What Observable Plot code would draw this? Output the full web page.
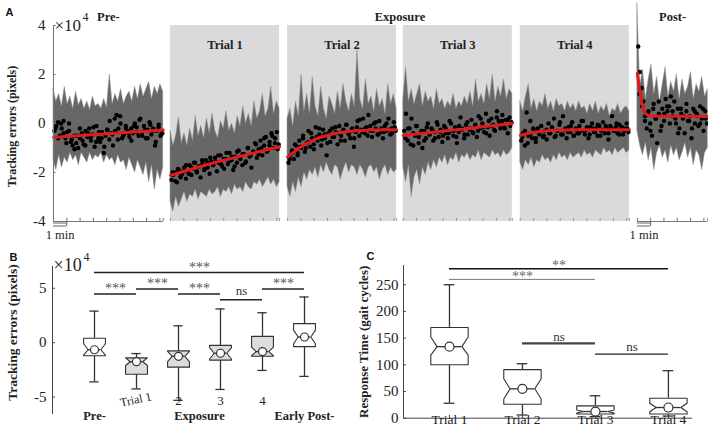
<!DOCTYPE html>
<html><head><meta charset="utf-8">
<script src="https://cdn.jsdelivr.net/npm/d3@7"></script>
<script src="https://cdn.jsdelivr.net/npm/@observablehq/plot@0.6"></script>
<style>
body{margin:0;background:#fff;}
#wrap{position:relative;width:708px;height:430px;overflow:hidden;background:#fff;}
#wrap svg{position:absolute;left:0;top:0;}
</style></head><body><div id="wrap"></div>
<script>
// ---------- Panel A data (tracking errors, x10^4 pixels; time in minutes) ----------
const segStart = [0, 8.8, 17.6, 26.3, 35.1, 43.9];
const segLength = [8.25, 8.2, 8.2, 8.2, 8.2, 5.3];
const segTitle = ["", "Trial 1", "Trial 2", "Trial 3", "Trial 4", ""];
const segShaded = [false, true, true, true, true, false];
const groupTitle = ["Pre-", "Exposure", "Post-"];
const groupFirst = [0, 1, 5];
const groupLast = [0, 4, 5];
const yTicksA = [-4, -2, 0, 2, 4];

const preUpper = [1.4,0.9,1.2,0.7,1.5,0.8,1.1,0.6,1.3,0.75,1.0,0.6,0.9,0.55,1.1,0.7,0.8,0.6,1.0,0.65,2.0,0.8,1.2,0.9,1.4,0.8,1.1,1.3,0.9,1.5,1.0,1.6,1.1,1.4,1.7,1.0,1.5,1.2,1.6,1.3];
const preLower = [-1.5,-1.9,-1.3,-1.8,-1.4,-1.6,-1.2,-1.5,-1.3,-1.7,-1.2,-1.4,-1.6,-1.2,-1.5,-1.3,-1.4,-1.2,-1.6,-1.3,-1.5,-1.4,-1.7,-1.3,-1.6,-1.5,-1.9,-1.4,-1.7,-2.0,-1.5,-1.8,-2.1,-1.6,-2.4,-1.7,-2.7,-1.9,-2.3,-1.8];
const t1Upper = [-0.3,-0.9,-0.5,0.26,-0.8,-0.4,-0.9,-0.2,-0.7,0.3,-0.5,-0.1,-0.6,0.2,-0.4,0.4,-0.3,-0.6,0.1,-0.2,0.5,-0.3,0.0,-0.4,0.3,-0.1,0.7,0.0,0.4,-0.1,0.9,0.2,0.5,1.2,0.3,0.6,1.5,0.4,0.9,0.6];
const t1Lower = [-3.2,-3.6,-3.0,-3.4,-3.1,-2.8,-3.2,-2.9,-3.0,-2.7,-3.1,-2.8,-2.9,-3.0,-2.7,-2.9,-2.8,-2.6,-3.0,-2.7,-2.8,-2.6,-2.9,-2.5,-2.7,-2.6,-2.8,-2.4,-2.6,-2.7,-2.4,-2.5,-2.3,-2.6,-2.4,-2.2,-2.5,-2.3,-2.6,-2.4];
const t2Upper = [0.2,0.6,-0.1,0.9,0.3,2.0,0.5,1.2,0.4,1.9,0.7,0.3,1.5,0.6,0.2,1.1,0.8,0.4,1.3,0.6,1.6,0.9,0.5,1.2,0.7,3.0,1.0,0.6,1.8,0.8,1.1,0.5,1.4,0.7,1.0,0.4,1.6,0.8,1.2,0.6];
const t2Lower = [-2.6,-3.0,-2.4,-2.8,-2.2,-2.6,-2.0,-2.3,-1.9,-2.1,-1.8,-2.2,-1.7,-2.0,-1.6,-1.9,-2.1,-1.7,-1.8,-2.3,-1.9,-1.6,-2.0,-1.7,-1.8,-2.1,-1.7,-1.9,-2.2,-1.8,-1.7,-2.0,-1.8,-2.3,-1.9,-1.7,-2.1,-1.8,-2.0,-1.9];
const t3Upper = [1.0,2.3,0.9,1.4,0.8,1.2,1.6,0.7,1.3,0.9,1.1,0.6,1.4,0.8,1.0,0.6,0.9,0.7,1.2,0.6,0.9,0.7,1.1,0.8,1.3,0.7,1.8,0.9,1.2,0.8,1.6,1.0,2.0,0.9,1.5,1.1,1.8,1.0,1.4,1.2];
const t3Lower = [-1.8,-2.4,-1.7,-3.0,-2.2,-1.9,-2.5,-1.8,-2.1,-1.6,-1.9,-1.5,-1.8,-1.4,-1.6,-1.3,-1.7,-1.4,-1.5,-1.2,-1.6,-1.3,-1.4,-1.2,-1.5,-1.3,-1.4,-1.1,-1.5,-1.2,-1.3,-1.4,-1.1,-1.3,-1.2,-1.4,-1.1,-1.3,-1.2,-1.0];
const t4Upper = [0.9,0.5,1.1,1.6,0.6,1.0,0.5,0.9,0.7,1.2,0.6,0.9,0.5,1.0,0.7,0.8,0.5,0.9,0.6,0.8,0.5,0.9,0.6,0.7,0.4,0.8,0.5,0.9,0.4,0.7,0.5,0.8,0.3,0.6,0.5,0.8,0.4,0.6,0.7,0.5];
const t4Lower = [-1.6,-1.9,-1.5,-1.7,-1.4,-1.8,-1.5,-1.6,-1.3,-1.5,-1.4,-1.6,-1.3,-1.5,-1.2,-1.4,-1.3,-1.5,-1.2,-1.4,-1.3,-1.2,-1.4,-1.1,-1.3,-1.2,-1.4,-1.1,-1.2,-1.3,-1.0,-1.2,-1.1,-1.3,-1.0,-1.2,-1.1,-1.0,-1.2,-1.1];
const postUpper = [4.9,1.5,2.2,1.0,1.8,2.4,1.2,1.9,0.9,1.6,2.3,1.1,1.7,1.3,2.0,1.0,1.8,1.2,1.5,2.1,1.0,1.6,1.3,1.9,1.1,1.4];
const postLower = [-0.3,-0.9,-1.3,-0.8,-1.5,-1.0,-1.9,-1.2,-0.9,-1.4,-1.1,-1.6,-0.9,-1.3,-1.0,-1.5,-1.2,-0.8,-1.4,-1.0,-1.7,-1.1,-1.3,-1.9,-1.2,-1.0];

// per-cycle mean errors (two interleaved sampling passes per block)
const preDots = [-0.3,-0.1,0.05,-0.5,-0.2,0.1,-0.6,-0.35,0.0,-0.75,-0.9,-0.5,-0.8,-1.0,-0.6,-0.4,-0.85,-0.3,-0.55,-0.2,-0.7,-0.45,-0.95,-0.1,-0.6,-0.75,-0.35,-1.2,-0.5,-0.25,-0.65,-0.4,-0.9,0.2,0.35,-0.2,0.3,-0.6,-0.45,-0.1,-0.3,-0.55,-0.2,-0.4,0.0,-0.15,-0.5,0.2,-0.35,-0.1,-0.6,-0.25,0.05,-0.45,-0.2,-0.9,-0.3,-0.05,-0.5,-0.4];
const t1Dots = [-2.3,-2.1,-2.0,-2.4,-1.9,-2.2,-2.05,-1.8,-2.25,-1.95,-1.7,-2.1,-1.85,-1.6,-2.0,-1.75,-2.2,-1.65,-1.9,-1.5,-1.8,-2.05,-1.55,-1.7,-1.4,-1.95,-1.6,-1.3,-1.75,-1.85,-1.45,-1.65,-1.2,-1.5,-1.9,-1.35,-1.6,-1.1,-1.45,-1.7,-1.25,-1.55,-1.0,-1.35,-1.8,-1.15,-0.8,-1.4,-1.05,-0.7,-1.3,-0.9,-0.55,-1.1,-0.75,-0.4,-1.0,-0.6,-0.35,-0.85];
const t2Dots = [-1.6,-1.3,-1.1,-1.45,-0.9,-1.2,-0.7,-1.0,-0.5,-1.15,-0.8,-0.3,-0.95,-0.6,-1.05,-0.15,-0.7,-0.45,-0.9,-0.25,-0.6,-1.3,-0.4,-0.75,-0.2,-0.55,-0.35,-0.85,-0.1,-0.5,-0.3,-0.7,-0.05,-0.4,-0.6,-0.2,-0.95,-0.35,0.1,-0.5,-0.25,0.2,-0.4,-0.15,0.35,-0.3,-0.55,0.0,-0.2,-0.45,0.1,-0.35,-0.6,-0.1,-0.3,0.2,-0.45,-0.2,0.05,-0.3];
const t3Dots = [-0.3,0.4,-0.7,-0.2,0.2,-0.9,-0.5,-0.1,-0.8,-0.4,-1.0,-0.3,-0.6,0.0,-0.45,-0.2,-0.7,-0.35,0.05,-0.55,-0.25,-0.75,-0.1,-0.4,-0.6,0.1,-0.3,-0.5,-0.15,-0.8,-0.35,0.25,-0.2,-0.6,-0.05,-0.45,-0.25,0.15,-0.4,-0.1,-0.55,0.3,-0.2,0.0,-0.35,0.4,-0.15,-0.5,0.2,-0.05,-0.3,0.5,0.1,-0.2,0.35,-0.1,0.15,-0.4,0.25,0.05];
const t4Dots = [-0.7,-0.4,-0.9,0.45,-0.5,0.1,-0.6,-0.3,-0.75,-0.2,-0.45,-0.1,-0.55,-0.3,-0.65,0.0,-0.4,-0.2,0.2,-0.5,-0.3,-0.05,-0.45,0.3,-0.25,-0.6,-0.15,-0.35,0.05,-0.5,-0.2,-0.4,-0.1,-0.3,0.1,-0.45,-0.25,-0.6,-0.15,0.0,-0.35,-0.2,-0.5,-0.1,-0.3,0.05,-0.4,-0.2,-0.65,-0.1,0.3,-0.3,-0.15,-0.4,-0.05,-0.25,-0.45,-0.2,0.0,-0.35];
const postDots = [3.14,2.1,1.45,0.9,0.3,-0.2,0.5,0.0,-0.5,0.8,0.2,-0.8,0.4,-0.3,0.6,0.1,1.0,0.5,0.7,1.1,0.3,0.9,0.0,0.6,-0.2,0.4,0.2,-0.4,0.5,0.1,0.3,-0.6,0.6,0.0,0.4,-0.1,0.7,0.2,-0.3,0.5,0.0];
const preDots2 = [-0.2,-0.6,0.0,-0.4,-0.8,-0.3,-0.65,-1.05,-0.5,-0.2,-0.7,-0.9,-0.4,-0.55,-0.15,-0.75,-0.35,-0.6,-0.95,-0.25,0.1,-0.45,-0.3,-0.65,0.0,-0.5,-0.2,-0.4,-0.7,-0.1,-0.35,0.15,-0.5,-0.25,-0.6,-0.05,-0.3,-0.75,-0.15,-0.45];
const t1Dots2 = [-2.0,-2.35,-1.85,-2.15,-1.95,-1.7,-2.05,-1.8,-1.6,-1.95,-1.75,-1.5,-1.85,-1.6,-1.4,-1.7,-1.55,-1.3,-1.65,-1.45,-1.2,-1.55,-1.35,-1.75,-1.15,-1.4,-1.25,-1.6,-1.0,-1.3,-1.15,-0.85,-1.25,-1.0,-0.6,-1.15,-0.9,-0.5,-0.8,-1.05];
const t2Dots2 = [-1.45,-1.2,-0.85,-1.3,-0.95,-0.6,-1.0,-0.75,-0.4,-0.85,-0.55,-0.2,-0.65,-0.45,-0.8,-0.3,-0.55,-0.15,-0.4,-0.7,-0.25,-0.05,-0.45,-0.3,-0.6,-0.15,0.15,-0.35,-0.2,-0.5,-0.1,-0.3,0.05,-0.45,-0.2,-0.35,0.0,-0.25,-0.4,-0.15];
const t3Dots2 = [-0.6,-0.2,-0.85,-0.4,-0.1,-0.55,-0.3,-0.7,-0.15,-0.45,-0.25,-0.6,-0.05,-0.35,-0.5,-0.2,-0.4,0.0,-0.3,-0.55,-0.1,-0.25,-0.45,0.05,-0.2,-0.35,-0.05,-0.3,0.2,-0.15,-0.4,0.1,-0.1,-0.25,0.25,-0.05,0.1,-0.2,0.15,-0.1];
const t4Dots2 = [-0.55,-0.3,-0.8,-0.45,-0.2,-0.6,-0.35,-0.1,-0.5,-0.25,-0.4,-0.15,-0.55,-0.3,0.05,-0.45,-0.2,-0.35,-0.1,-0.5,-0.25,-0.4,0.1,-0.3,-0.15,-0.45,-0.2,-0.35,-0.05,-0.5,-0.25,-0.1,-0.4,-0.2,-0.3,0.0,-0.45,-0.15,-0.3,-0.2];
const postDots2 = [1.2,0.7,0.1,0.4,-0.3,0.6,0.2,0.9,-0.1,0.4,0.7,0.0,0.5,0.2,-0.4,0.6,0.3,0.8,0.1,-0.2,0.5,0.3,0.0,0.6,0.2];

const preFit = [-0.57,-0.53,-0.49,-0.45,-0.42,-0.38,-0.34,-0.31,-0.27];
const t1Fit = [-2.12,-1.95,-1.79,-1.63,-1.49,-1.35,-1.22,-1.08,-0.95];
const t2Fit = [-1.37,-0.95,-0.65,-0.47,-0.36,-0.30,-0.27,-0.25,-0.25];
const t3Fit = [-0.49,-0.43,-0.37,-0.31,-0.25,-0.19,-0.12,-0.06,0.0];
const t4Fit = [-0.49,-0.36,-0.30,-0.27,-0.26,-0.25,-0.25,-0.25,-0.25];
const postFit = [2.04,1.3,0.7,0.42,0.34,0.31,0.30,0.30,0.30,0.29];
const postFitTime = [0,0.2,0.4,0.6,0.8,1.2,2,3,4,5.3];

// ---------- Panel B data (tracking errors, x10^4 pixels) ----------
const bCategory = ["Pre-", "Trial 1", "2", "3", "4", "Early Post-"];
const bMin = [-3.6, -4.25, -5.3, -4.3, -2.55, -3.1];
const bQ1 = [-1.2, -2.9, -2.25, -1.6, -1.25, -0.36];
const bMedian = [-0.65, -1.75, -1.25, -0.97, -0.82, 0.52];
const bQ3 = [0.4, -1.4, -0.75, -0.25, 0.58, 1.75];
const bMax = [2.9, -1.0, 1.55, 3.1, 2.75, 4.2];
const bNotchLo = [-1.15, -2.1, -1.75, -1.5, -1.2, -0.1];
const bNotchHi = [-0.1, -1.4, -0.8, -0.45, -0.4, 1.15];
const bExposure = [false, true, true, true, true, false];
const bGroupTitle = ["Pre-", "Exposure", "Early Post-"];
const bGroupFirst = [1, 2, 6];
const bGroupLast = [1, 5, 6];
const bSigFrom = [1, 1, 2, 3, 4, 5];
const bSigTo = [6, 2, 3, 4, 5, 6];
const bSigY = [6.45, 4.48, 4.94, 4.48, 3.94, 4.94];
const bSigText = ["***", "***", "***", "***", "ns", "***"];
const yTicksB = [-5, 0, 5];

// ---------- Panel C data (response time, gait cycles) ----------
const cCategory = ["Trial 1", "Trial 2", "Trial 3", "Trial 4"];
const cMin = [28, 6, 3, 4];
const cQ1 = [100, 26, 8, 8];
const cMedian = [134, 55, 12.5, 20];
const cQ3 = [170, 91, 23, 37.5];
const cMax = [250, 102, 42, 89];
const cNotchLo = [118, 36, 9.5, 12];
const cNotchHi = [152, 74, 15.5, 28];
const cSigFrom = [1, 1, 2, 3];
const cSigTo = [4, 3, 3, 4];
const cSigY = [280, 260, 140, 120];
const cSigText = ["**", "***", "ns", "ns"];
const yTicksC = [0, 50, 100, 150, 200, 250];

// ---------- helpers ----------
const SERIF = "'Liberation Serif', 'Times New Roman', serif";
const SANS = "'Liberation Sans', Arial, sans-serif";
const fmt = d => (d < 0 ? "-" + (-d) : String(d));
const wrap = document.getElementById("wrap");

// ---------- Panel A ----------
const uppers = [preUpper, t1Upper, t2Upper, t3Upper, t4Upper, postUpper];
const lowers = [preLower, t1Lower, t2Lower, t3Lower, t4Lower, postLower];
const dotSets = [preDots, t1Dots, t2Dots, t3Dots, t4Dots, postDots];
const dotSets2 = [preDots2, t1Dots2, t2Dots2, t3Dots2, t4Dots2, postDots2];
const fitSets = [preFit, t1Fit, t2Fit, t3Fit, t4Fit, postFit];

const segs = segStart.map((s, i) => ({i, start: s, end: s + segLength[i], mid: s + segLength[i] / 2, title: segTitle[i], shaded: segShaded[i]}));
const bandRows = [];
uppers.forEach((u, s) => u.forEach((hi, k) => bandRows.push({seg: s, t: segStart[s] + k * segLength[s] / (u.length - 1), hi, lo: lowers[s][k]})));
const dotRows = [];
dotSets.forEach((d, s) => d.forEach((v, k) => dotRows.push({seg: s, t: segStart[s] + (k + 0.5) * segLength[s] / d.length, v})));
dotSets2.forEach((d, s) => d.forEach((v, k) => dotRows.push({seg: s, t: segStart[s] + (k + 0.75) * segLength[s] / (d.length + 0.5), v})));
const fitRows = [];
fitSets.forEach((f, s) => f.forEach((v, k) => fitRows.push({seg: s, t: segStart[s] + (s === 5 ? postFitTime[k] : k * segLength[s] / (f.length - 1)), v})));
const tickRows = [];
segs.forEach(sg => { for (let k = 0; k <= Math.floor(segLength[sg.i]); k++) tickRows.push({t: sg.start + k, shaded: sg.shaded}); tickRows.push({t: sg.end, shaded: sg.shaded}); });
const groups = groupTitle.map((g, j) => ({title: g, mid: (segStart[groupFirst[j]] + segStart[groupLast[j]] + segLength[groupLast[j]]) / 2}));
const yA0 = yTicksA[0], yA1 = yTicksA[yTicksA.length - 1];
const tMax = segStart[5] + segLength[5] + 0.05;
const plain = segs.filter(s => !s.shaded);

const plotA = Plot.plot({
  width: 708, height: 430,
  marginLeft: 53, marginRight: 0, marginTop: 25, marginBottom: 209,
  x: {domain: [0, tMax], axis: null},
  y: {domain: [yA0, yA1], axis: null},
  style: {background: "transparent", fontFamily: SERIF, color: "#222"},
  marks: [
    Plot.rect(segs.filter(s => s.shaded), {x1: "start", x2: "end", y1: yA0, y2: yA1, fill: "#dadada"}),
    Plot.areaY(bandRows, {x: "t", y1: "lo", y2: "hi", z: "seg", fill: "#676767", stroke: "#949494", strokeWidth: 0.5}),
    Plot.dot(dotRows, {x: "t", y: "v", r: 2.2, fill: "#000", stroke: "none"}),
    Plot.line(fitRows, {x: "t", y: "v", z: "seg", stroke: "#e3191c", strokeWidth: 3, curve: "monotone-x"}),
    Plot.ruleY(plain, {y: yA0, x1: "start", x2: "end", stroke: "#777", strokeWidth: 1}),
    Plot.ruleX(tickRows.filter(d => !d.shaded), {x: "t", y1: yA0, y2: yA0 + 0.13, stroke: "#777"}),
    Plot.ruleX(tickRows.filter(d => d.shaded), {x: "t", y1: yA0, y2: yA0 + 0.13, stroke: "#9a9a9a"}),
    Plot.ruleY(plain, {y: yA0, x1: "start", x2: d => d.start + 1, dy: 1.5, stroke: "#666"}),
    Plot.ruleY(plain, {y: yA0, x1: "start", x2: d => d.start + 1, dy: 4.5, stroke: "#666"}),
    Plot.ruleX(plain, {x: d => d.start + 1, y1: yA0, y2: yA0 - 0.2, stroke: "#666"}),
    Plot.text(plain, {x: d => d.start + 0.5, frameAnchor: "bottom", dy: 17, text: () => "1 min", fontSize: 12.5, fill: "#222"}),
    Plot.ruleX([0], {y1: yA0, y2: yA1, stroke: "#777"}),
    Plot.ruleY(yTicksA, {y: d => d, x1: 0, x2: 0.2, stroke: "#777"}),
    Plot.axisY({ticks: yTicksA, tickFormat: fmt, tickSize: 0, tickPadding: 8, fontSize: 15, fontFamily: SERIF, label: null}),
    Plot.text(segs.filter(s => s.title), {x: "mid", text: "title", frameAnchor: "top", dy: 15, fontWeight: "bold", fontSize: 12.5, fill: "#222"}),
    Plot.text(groups, {x: "mid", text: "title", frameAnchor: "top", dy: -13, fontWeight: "bold", fontSize: 12.5, fill: "#222"}),
    Plot.text(["×10"], {frameAnchor: "top-left", textAnchor: "start", dx: 1, dy: -7, fontSize: 17, fill: "#222"}),
    Plot.text(["4"], {frameAnchor: "top-left", textAnchor: "start", dx: 29, dy: -13, fontSize: 12, fill: "#222"}),
    Plot.text(["Tracking errors (pixels)"], {frameAnchor: "left", textAnchor: "middle", dx: -41, dy: 3, rotate: -90, fontWeight: "bold", fontSize: 12, fill: "#222"}),
    Plot.text(["A"], {frameAnchor: "top-left", textAnchor: "start", dx: -48, dy: -17, fontFamily: SANS, fontWeight: "bold", fontSize: 11, fill: "#111"})
  ]
});
wrap.appendChild(plotA);

// ---------- box helpers ----------
function boxes(min, q1, med, q3, max, nlo, nhi) {
  return med.map((m, i) => ({i, c: i + 1, min: min[i], q1: q1[i], med: m, q3: q3[i], max: max[i], nlo: nlo[i], nhi: nhi[i]}));
}
function polygon(bx, w, wn) {
  const rows = [];
  bx.forEach(b => {
    const pts = [[b.c - w, b.q1], [b.c - w, b.nlo], [b.c - wn, b.med], [b.c - w, b.nhi], [b.c - w, b.q3],
                 [b.c + w, b.q3], [b.c + w, b.nhi], [b.c + wn, b.med], [b.c + w, b.nlo], [b.c + w, b.q1], [b.c - w, b.q1]];
    pts.forEach(p => rows.push({box: b.i, x: p[0], y: p[1], shaded: b.shaded}));
  });
  return rows;
}
function boxMarks(bx, w, wn, cap, stroke, r) {
  const poly = polygon(bx, w, wn);
  return [
    Plot.ruleX(bx, {x: "c", y1: "q3", y2: "max", stroke, strokeWidth: 1.3}),
    Plot.ruleX(bx, {x: "c", y1: "min", y2: "q1", stroke, strokeWidth: 1.3}),
    Plot.ruleY(bx, {y: "max", x1: d => d.c - cap, x2: d => d.c + cap, stroke, strokeWidth: 1.3}),
    Plot.ruleY(bx, {y: "min", x1: d => d.c - cap, x2: d => d.c + cap, stroke, strokeWidth: 1.3}),
    Plot.line(poly.filter(d => d.shaded), {x: "x", y: "y", z: "box", fill: "#dcdcdc", stroke, strokeWidth: 1.1}),
    Plot.line(poly.filter(d => !d.shaded), {x: "x", y: "y", z: "box", fill: "#fff", stroke, strokeWidth: 1.1}),
    Plot.ruleY(bx, {y: "med", x1: d => d.c - wn, x2: d => d.c + wn, stroke, strokeWidth: 1.3}),
    Plot.dot(bx, {x: "c", y: "med", r, fill: "#fff", stroke, strokeWidth: 1.2})
  ];
}

// ---------- Panel B ----------
const bBoxes = boxes(bMin, bQ1, bMedian, bQ3, bMax, bNotchLo, bNotchHi).map((b, i) => ({...b, shaded: bExposure[i]}));
const bSig = bSigFrom.map((f, i) => ({from: f, to: bSigTo[i], y: bSigY[i], label: bSigText[i]}));
const bTick = bCategory.map((c, i) => ({c: i + 1, label: c})).filter((d, i) => bExposure[i]);
const bGroups = bGroupTitle.map((g, j) => ({title: g, mid: (bGroupFirst[j] + bGroupLast[j]) / 2}));
const yB0 = -6.6, yB1 = 7.0;

const plotB = Plot.plot({
  width: 708, height: 430,
  marginLeft: 52, marginRight: 362, marginTop: 266, marginBottom: 16,
  x: {domain: [0, 7], axis: null},
  y: {domain: [yB0, yB1], axis: null},
  style: {background: "transparent", fontFamily: SERIF, color: "#222"},
  marks: [
    Plot.ruleX([0], {y1: yB0, y2: yB1, stroke: "#444"}),
    Plot.ruleY(yTicksB, {y: d => d, x1: 0, x2: 0.07, stroke: "#444"}),
    Plot.axisY({ticks: yTicksB, tickFormat: fmt, tickSize: 0, tickPadding: 6, fontSize: 15, fontFamily: SERIF, label: null}),
    ...boxMarks(bBoxes, 0.26, 0.15, 0.11, "#333", 4),
    Plot.ruleY(bSig, {y: "y", x1: "from", x2: "to", stroke: "#222", strokeWidth: 1.5}),
    Plot.text(bSig.filter(d => d.label !== "ns"), {x: d => (d.from + d.to) / 2, y: "y", text: "label", dy: -5, fontSize: 14, fill: "#555"}),
    Plot.text(bSig.filter(d => d.label === "ns"), {x: d => (d.from + d.to) / 2, y: "y", text: "label", dy: -9, fontSize: 13, fill: "#333"}),
    Plot.text(bTick.filter(d => d.c === 2), {x: "c", text: "label", frameAnchor: "bottom", dy: -11, rotate: -12, fontSize: 12, fill: "#222"}),
    Plot.text(bTick.filter(d => d.c !== 2), {x: "c", text: "label", frameAnchor: "bottom", dy: -10, fontSize: 13, fill: "#222"}),
    Plot.text(bGroups, {x: "mid", text: "title", frameAnchor: "bottom", dy: 5, fontWeight: "bold", fontSize: 12.5, fill: "#222"}),
    Plot.text(["×10"], {frameAnchor: "top-left", textAnchor: "start", dx: 1, dy: -8, fontSize: 18, fill: "#222"}),
    Plot.text(["4"], {frameAnchor: "top-left", textAnchor: "start", dx: 31, dy: -14, fontSize: 12, fill: "#222"}),
    Plot.text(["Tracking errors (pixels)"], {frameAnchor: "left", textAnchor: "middle", dx: -40, dy: -8, rotate: -90, fontWeight: "bold", fontSize: 13.5, fill: "#222"}),
    Plot.text(["B"], {frameAnchor: "top-left", textAnchor: "start", dx: -43, dy: -13, fontFamily: SANS, fontWeight: "bold", fontSize: 11, fill: "#111"})
  ]
});
wrap.appendChild(plotB);

// ---------- Panel C ----------
const cBoxes = boxes(cMin, cQ1, cMedian, cQ3, cMax, cNotchLo, cNotchHi).map(b => ({...b, shaded: false}));
const cSig = cSigFrom.map((f, i) => ({i, from: f, to: cSigTo[i], y: cSigY[i], label: cSigText[i]}));
const cTicks = cCategory.map((c, i) => ({c: i + 1, label: c}));
const xC0 = 0.37, xC1 = 4.33, yC1 = 286;

const plotC = Plot.plot({
  width: 708, height: 430,
  marginLeft: 403, marginRight: 16, marginTop: 265, marginBottom: 12.3,
  x: {domain: [xC0, xC1], axis: null},
  y: {domain: [0, yC1], axis: null},
  style: {background: "transparent", fontFamily: SERIF, color: "#222"},
  marks: [
    Plot.ruleX([xC0], {y1: 0, y2: yC1, stroke: "#444"}),
    Plot.ruleY([0], {x1: xC0, x2: xC1, stroke: "#444"}),
    Plot.ruleY(yTicksC, {y: d => d, x1: xC0, x2: xC0 + 0.04, stroke: "#444"}),
    Plot.ruleX(cTicks, {x: "c", y1: 0, y2: 5, stroke: "#444"}),
    Plot.axisY({ticks: yTicksC, tickSize: 0, tickPadding: 5, fontSize: 15, fontFamily: SERIF, label: null}),
    ...boxMarks(cBoxes, 0.256, 0.17, 0.073, "#333", 4.5),
    Plot.ruleY(cSig.filter(d => d.i === 0), {y: "y", x1: "from", x2: "to", stroke: "#111", strokeWidth: 1.4}),
    Plot.ruleY(cSig.filter(d => d.i === 1), {y: "y", x1: "from", x2: "to", stroke: "#777", strokeWidth: 1}),
    Plot.ruleY(cSig.filter(d => d.i === 2), {y: "y", x1: "from", x2: "to", stroke: "#444", strokeWidth: 2.2}),
    Plot.ruleY(cSig.filter(d => d.i === 3), {y: "y", x1: "from", x2: "to", stroke: "#222", strokeWidth: 1.3}),
    Plot.text(cSig.filter(d => d.label !== "ns"), {x: d => (d.from + d.to) / 2, y: "y", text: "label", dy: -3, fontSize: 14, fill: "#666"}),
    Plot.text(cSig.filter(d => d.label === "ns"), {x: d => (d.from + d.to) / 2, y: "y", text: "label", dy: -7, fontSize: 13, fill: "#333"}),
    Plot.text(cTicks, {x: "c", text: "label", frameAnchor: "bottom", dy: 6, fontSize: 13.5, fill: "#222"}),
    Plot.text(["Response Time (gait cycles)"], {frameAnchor: "left", textAnchor: "middle", dx: -40, rotate: -90, fontWeight: "bold", fontSize: 13, fill: "#222"}),
    Plot.text(["C"], {frameAnchor: "top-left", textAnchor: "start", dx: -37, dy: -13, fontFamily: SANS, fontWeight: "bold", fontSize: 11, fill: "#111"})
  ]
});
wrap.appendChild(plotC);
</script></body></html>
